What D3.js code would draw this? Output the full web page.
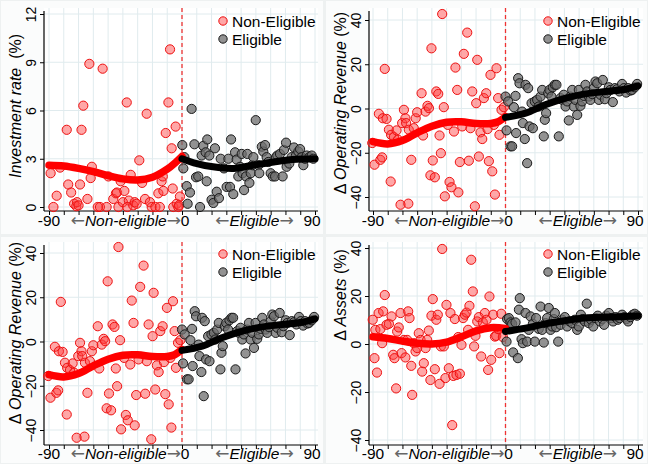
<!DOCTYPE html>
<html>
<head>
<meta charset="utf-8">
<script src="https://cdn.jsdelivr.net/npm/d3@7"></script>
<style>
  body { margin: 0; background: #eef1f1; }
  svg { display: block; font-family: "Liberation Sans", Arial, sans-serif; }
</style>
</head>
<body>
<div id="canvas"></div>
<script>
"use strict"

/* Data: [days from cutoff, value] */
let invNon = [[-88.9,2.1],[-87,0],[-84.8,0.7],[-82.5,2.45],[-78,4.8],[-77,1.4],[-75,0.9],[-73,0.2],[-71.5,0.05],[-71,0.3],[-70,0.1],[-69,1.4],[-68,4.8],[-66.8,6.3],[-64,0.5],[-62.7,8.9],[-61.8,1.8],[-61,2.5],[-57,0],[-55.5,0],[-53.7,8.6],[-51,0],[-49.8,1.9],[-46.5,0.5],[-44.7,0.85],[-44,0.9],[-43,0],[-41.5,1.6],[-40,0.3],[-39,1.0],[-37.4,6.5],[-36,0.4],[-37,0],[-34.7,2.0],[-33,0.1],[-32,0.3],[-30.7,0.2],[-28.9,2.9],[-27,1.5],[-25,0.5],[-23.9,5.8],[-21.7,0.3],[-20.5,0],[-18,0],[-16,0.85],[-15,0],[-13.8,1.6],[-13,1.9],[-12.6,1.0],[-11,4.6],[-9.2,6.5],[-8.1,9.8],[-7,3.65],[-6.3,1.15],[-5.9,0],[-4.3,5.0],[-3.6,0.2],[-2.5,0],[-1.4,0.65],[-2,0.1]];
let invElig = [[0.2,3.85],[0.9,2.4],[1.6,3.1],[3.2,1.3],[3.8,0.2],[5.4,0.9],[6.5,6.1],[8.4,3.9],[9.5,1.85],[11,1.9],[12.2,0],[13.3,3.2],[14.4,3.8],[16,3.4],[16.7,1.6],[17.1,4.2],[18.5,3.2],[20,0.45],[21.2,0.25],[22.3,3.65],[23.5,0.95],[25,0.55],[26.2,3.0],[28.4,2.4],[30.2,1.25],[31.4,3.0],[32.5,1.25],[33.2,4.2],[34.7,0.8],[35.9,3.4],[37,2.95],[38.1,1.9],[39.3,2.5],[40.4,3.3],[41,2.1],[42,1.05],[43.3,1.9],[44.2,3.3],[45.6,1.5],[46.5,2.1],[47.6,2.6],[48.3,3.1],[49.9,5.4],[51.7,2.6],[52.3,2.1],[54,3.75],[55,3.45],[56.2,3.85],[57.3,3.1],[58.4,2.8],[60,2.1],[61.4,1.9],[63,1.9],[63.6,3.1],[64.5,3.2],[66.3,3.3],[68.1,1.9],[69,3.55],[70.4,4.0],[70.8,2.5],[72.6,2.7],[74.2,3.1],[75.8,3.7],[77.1,3.2],[78.7,3.45],[79.9,3.6],[81,3.1],[82.1,2.6],[83.2,3.0],[84.4,3.2],[86.2,3.1],[87.8,3.2],[88.9,3.0]];
let invNonFit = [[-90,2.6],[-80,2.55],[-70,2.4],[-60,2.2],[-50,1.95],[-40,1.75],[-30,1.68],[-20,1.85],[-10,2.35],[-4,2.8],[0,3.15]];
let invEligFit = [[0,3.0],[8,2.75],[21,2.5],[35,2.4],[48,2.6],[62,2.8],[75,2.95],[90,3.0]];

let revNon = [[-90.5,-15.6],[-89,-25.4],[-86,-2.4],[-85,-23.2],[-83.8,-22.1],[-83.3,-4.4],[-82,17.9],[-80.8,-4.7],[-79.2,-9.6],[-78,-33],[-77.7,-11.9],[-75.8,-12.9],[-74,-9.9],[-73,-14.1],[-71.3,-43.5],[-70.2,-6.6],[-69,-0.6],[-68,-4.4],[-67.5,-6.6],[-66,-43],[-65.7,-9.6],[-64,-23.2],[-62.3,-8.9],[-61,-4.4],[-60,-1.7],[-57,6.9],[-56,-12.2],[-54.3,-1.4],[-53,1.2],[-52,0.15],[-51,-30.2],[-50.3,27.2],[-49.4,-23.5],[-48,-31.1],[-47,7.7],[-45.7,6.6],[-44.8,-12.2],[-43.9,-20.2],[-43,42.7],[-41.9,0.6],[-41.2,-39.7],[-39.2,-7.4],[-38,-33.2],[-36.7,-35.6],[-35,-10.4],[-34,18.5],[-32.8,8.4],[-32,-37.9],[-31,-24.2],[-29.4,-8.1],[-28.3,24.7],[-26,34.3],[-24.9,-23.6],[-23.8,-8.9],[-22.6,7.7],[-20.8,-44.2],[-19.9,2.4],[-19.2,22],[-18.1,-21.7],[-17,-10.8],[-15.8,-13.8],[-14.7,4.7],[-13.1,6.9],[-12.2,-9.3],[-11.3,-23.8],[-10.2,15.2],[-9,-28.4],[-7.9,-7.4],[-7.2,-38.9],[-6.1,18.2],[-5,4.7],[-4.1,-11.9],[-2.7,-0.6],[-1.1,0.6]];
let revElig = [[0,5.4],[0.7,-9.9],[1.8,3.2],[3.4,-17.1],[4.5,-17.1],[5.7,0.6],[6.8,5.7],[7.2,-11.1],[8.6,13.7],[9.5,11.4],[11.3,-1.4],[11.8,-6.6],[13.1,-13.8],[13.6,10.7],[15.4,9.2],[14.7,-24.7],[16.3,-8.1],[17.7,2.4],[18.6,-8.9],[19.9,3.2],[21.5,3.9],[22.6,0.9],[23.8,5.4],[24.9,8.4],[26,-12.6],[26.7,-5.1],[27.6,-2.1],[29,6.9],[29.9,8.4],[31.2,5.4],[32.1,9.6],[33.5,10.7],[34.6,10.7],[36.2,-12.6],[37.4,4.7],[38.5,3.9],[39.6,6.2],[40.8,0.9],[41.9,3.2],[43,-5.4],[44.1,5.4],[45.3,8.4],[46.4,0.9],[47.5,3.9],[48.7,-2.9],[49.8,8.4],[50.9,1.2],[52,3.2],[53.2,5.7],[54.3,10.7],[55.5,7.7],[56.6,5.4],[57.7,3.9],[58.9,6.5],[60,9.2],[61.1,12.2],[62.3,11.4],[63.4,3.9],[64.5,6.2],[66.1,12.9],[67.5,4.2],[68.6,6.9],[70.2,9.6],[71.3,8.4],[72.9,2.9],[74.3,9.2],[75.8,8.7],[77.4,7.7],[79.2,11.1],[80.4,9.2],[82,7.2],[83.3,9.2],[84.9,8.1],[86,8.4],[87.8,9.6],[89.4,11.1]];
let revNonFit = [[-90,-15],[-80,-16],[-70,-14.5],[-60,-11],[-50,-8],[-40,-6.2],[-30,-6],[-20,-6.8],[-10,-6.8],[-5,-6],[0,-3.6]];
let revEligFit = [[0,-4],[13.6,-2.1],[27,1.7],[41,4.7],[54,6.6],[68,7.7],[81.5,8.7],[90,10.2]];

let astNon = [[-90.2,10.1],[-89,-5.9],[-88.4,5.9],[-87.3,-11.9],[-86.2,12.9],[-85,6.2],[-83.8,0.35],[-83.1,13.6],[-82,20.4],[-80.8,8],[-79.2,8.4],[-77.4,11.5],[-76.3,-4.5],[-75.4,-5.9],[-74.3,-18.5],[-73.6,5.2],[-72.5,6.9],[-71.3,12.9],[-70.6,-3.8],[-69,1.7],[-68,-5.6],[-66.8,1.7],[-66.1,13.6],[-65.2,10.8],[-64,-9.1],[-63.4,-21.2],[-62.3,0.35],[-61.1,-3.1],[-60,-1.7],[-58.9,4.5],[-57.7,1.7],[-56.6,-11.5],[-55.5,-8],[-54.3,-1.7],[-53.2,1.7],[-52.1,5.6],[-51,-15],[-50.3,11.8],[-49.4,18.7],[-48,-10.5],[-47,10.1],[-46,12.2],[-44.8,-16.6],[-43.9,-1],[-43,39.6],[-41.9,-1],[-40.8,-14.2],[-40.1,16.3],[-38.5,-10.1],[-37.4,12.9],[-36.2,-33.8],[-35.5,-13.3],[-34.4,10.4],[-33.3,-12.9],[-32.1,2.9],[-31,-12.4],[-29.9,-0.35],[-28.8,10.8],[-27.6,12.2],[-26.5,13.1],[-25.4,5.9],[-24.5,15.9],[-23.3,35.1],[-22.2,21.9],[-21.3,-1],[-20.4,3.4],[-19.2,9.4],[-18.1,11.2],[-16.5,-5.2],[-15.4,9],[-14,12.9],[-12.9,10.1],[-11.8,-10.8],[-10.9,19.8],[-9.7,-6.6],[-8.4,12.2],[-7.2,3.1],[-6.3,3.4],[-5,6.2],[-4.1,-3.8],[-2.9,12.6],[-1.8,2.9]];
let astElig = [[0.7,1.0],[1.1,10.4],[2.3,10.8],[3.4,9],[4.5,8.4],[5.2,-3.5],[6.8,9],[8.4,-5.9],[9.1,14.3],[9.7,19.1],[10.9,2],[11.8,0.35],[13.6,12.9],[14.7,1],[15.8,5.9],[17,11.5],[18.6,8.4],[19.9,1],[20.8,10.8],[22.6,6.3],[23.8,15.6],[24.9,5.9],[26,0.6],[27.2,8.7],[28.3,10.8],[29.4,15],[30.6,5.9],[31.7,7.3],[32.8,10.4],[33.5,12.9],[34.4,7],[35.8,1],[37.4,8],[38.5,10.1],[40.3,11.2],[41.9,7.3],[43.5,9.4],[45.3,8.7],[47.1,10.1],[48.7,5.9],[49.8,7.3],[51.2,12.2],[52.5,10.4],[53.9,9.4],[55.2,16.8],[56.6,8.7],[58.2,10.1],[59.6,7.3],[61.1,10.8],[62.7,11.8],[64.1,9.4],[65.7,10.4],[67,8],[68.4,11.8],[70.2,12.9],[71.8,10.8],[73.1,9.4],[74.7,11.2],[76.3,10.1],[77.6,10.8],[79.2,12.2],[80.8,11.2],[82.2,10.4],[83.3,9.4],[84.9,11.2],[86.5,12.2],[87.8,12.6],[89.4,11.8]];
let astNonFit = [[-90,3],[-80,2.3],[-70,1.2],[-60,0.3],[-50,0],[-40,0.8],[-30,3],[-20,5.5],[-10,6.8],[0,6.5]];
let astEligFit = [[0,5.2],[13.6,6.6],[27,8.4],[41,9.8],[54,10.8],[68,11.2],[81.5,11.5],[90,11.8]];

let xTicks = d3.range(-90, 91, 10);
let xLabelTicks = [-90, 0, 90];
let invTicks = [0, 3, 6, 9, 12];
let pctTicks = [-40, -20, 0, 20, 40];
let legendLabels = ["Non-Eligible", "Eligible"];

/* Layout of the four panels */
let panels = [
    {bx: 1, by: 1, bw: 322, bh: 233, axisX: 44, xr: [49, 315], right: 318, top: 8, axisY: 211,
     yDomain: [0, 12], yr: [207, 14], ticks: invTicks, titleY: 106,
     title: [["Investment rate", true], ["  (%)", false]],
     non: invNon, elig: invElig, nonFit: invNonFit, eligFit: invEligFit, legY: 21, labY: 226},
    {bx: 326, by: 1, bw: 321, bh: 233, axisX: 369, xr: [373, 638], right: 643, top: 8, axisY: 211,
     yDomain: [-40, 40], yr: [197, 20], ticks: pctTicks, titleY: 103,
     title: [["\u0394 ", false], ["Operating Revenue", true], [" (%)", false]],
     non: revNon, elig: revElig, nonFit: revNonFit, eligFit: revEligFit, legY: 21, labY: 226},
    {bx: 1, by: 237, bw: 322, bh: 226, axisX: 44, xr: [49, 315], right: 318, top: 242, axisY: 445,
     yDomain: [-40, 40], yr: [430, 253], ticks: pctTicks, titleY: 333,
     title: [["\u0394 ", false], ["Operating Revenue", true], [" (%)", false]],
     non: revNon, elig: revElig, nonFit: revNonFit, eligFit: revEligFit, legY: 254, labY: 459},
    {bx: 326, by: 237, bw: 321, bh: 226, axisX: 369, xr: [373, 638], right: 643, top: 242, axisY: 445,
     yDomain: [-40, 40], yr: [440, 248], ticks: pctTicks, titleY: 295,
     title: [["\u0394 ", false], ["Assets", true], [" (%)", false]],
     non: astNon, elig: astElig, nonFit: astNonFit, eligFit: astEligFit, legY: 254, labY: 459}
];

let svg = d3.select("#canvas")
    .append("svg")
    .attr("width", 648)
    .attr("height", 464);

let gridColor = "#e0ebee";
let redFill = "rgba(255,60,60,0.45)";
let grayFill = "rgba(110,110,110,0.75)";

panels.forEach(function(p) {
    let x = d3.scaleLinear().domain([-90, 90]).range(p.xr);
    let y = d3.scaleLinear().domain(p.yDomain).range(p.yr);
    let g = svg.append("g");

    // panel background and plot region
    g.append("rect")
        .attr("x", p.bx).attr("y", p.by)
        .attr("width", p.bw).attr("height", p.bh)
        .attr("fill", "#fbfcfc");
    g.append("rect")
        .attr("x", p.axisX).attr("y", p.top)
        .attr("width", p.right - p.axisX).attr("height", p.axisY - p.top)
        .attr("fill", "#ffffff");

    // grid
    g.selectAll(".vgrid")
        .data(xTicks)
        .join("line")
        .attr("x1", d => x(d)).attr("x2", d => x(d))
        .attr("y1", p.top).attr("y2", p.axisY)
        .attr("stroke", gridColor).attr("stroke-width", 1);
    g.selectAll(".hgrid")
        .data(p.ticks)
        .join("line")
        .attr("x1", p.axisX).attr("x2", p.right)
        .attr("y1", d => y(d)).attr("y2", d => y(d))
        .attr("stroke", gridColor).attr("stroke-width", 1);

    // y axis
    let yAxis = g.append("g")
        .attr("transform", "translate(" + p.axisX + ",0)")
        .call(d3.axisLeft(y).tickValues(p.ticks).tickSize(4).tickSizeOuter(0));
    yAxis.select(".domain").remove();
    yAxis.selectAll("line").attr("stroke", "#000");
    yAxis.selectAll("text")
        .attr("x", null).attr("dy", null)
        .attr("transform", "translate(-8,0) rotate(-90)")
        .attr("text-anchor", "middle")
        .attr("font-size", "14px")
        .attr("font-family", "Liberation Sans, Arial, sans-serif")
        .attr("fill", "#000");
    g.append("line")
        .attr("x1", p.axisX).attr("x2", p.axisX)
        .attr("y1", p.top + 3).attr("y2", p.axisY)
        .attr("stroke", "#000").attr("stroke-width", 1.2);

    // x axis
    let xAxis = g.append("g")
        .attr("transform", "translate(0," + p.axisY + ")")
        .call(d3.axisBottom(x).tickValues(xTicks).tickSize(4).tickSizeOuter(0).tickFormat(""));
    xAxis.select(".domain").remove();
    xAxis.selectAll("line").attr("stroke", "#000");
    g.append("line")
        .attr("x1", p.axisX).attr("x2", p.right)
        .attr("y1", p.axisY).attr("y2", p.axisY)
        .attr("stroke", "#000").attr("stroke-width", 1.2);

    g.selectAll(".xlab")
        .data(xLabelTicks)
        .join("text")
        .attr("x", d => x(d) + (d === 0 ? 3 : (d === 90 ? -3 : 0)))
        .attr("y", p.labY)
        .attr("text-anchor", "middle")
        .attr("font-size", "15.5px")
        .text(d => d);

    // side labels with arrows
    let sideLabels = [
        {text: "Non-eligible", x: x(0) - 1, anchor: "end"},
        {text: "Eligible", x: x(49), anchor: "middle"}
    ];
    sideLabels.forEach(function(s) {
        let t = g.append("text")
            .attr("x", s.x)
            .attr("y", p.labY)
            .attr("text-anchor", s.anchor)
            .attr("font-size", "15.5px");
        t.append("tspan").attr("fill", "#666").attr("font-family", "DejaVu Sans")
            .attr("font-size", "17px").text("\u2190");
        t.append("tspan").attr("font-style", "italic").text(s.text);
        t.append("tspan").attr("fill", "#666").attr("font-family", "DejaVu Sans")
            .attr("font-size", "17px").text("\u2192");
    });

    // y title
    let title = g.append("text")
        .attr("transform", "translate(" + (p.bx + 20) + "," + p.titleY + ") rotate(-90)")
        .attr("text-anchor", "middle")
        .attr("font-size", "16px")
        .attr("style", "white-space: pre");
    p.title.forEach(function(part) {
        title.append("tspan")
            .attr("font-style", part[1] ? "italic" : "normal")
            .text(part[0]);
    });

    // cutoff line
    g.append("line")
        .attr("x1", x(0)).attr("x2", x(0))
        .attr("y1", p.top).attr("y2", p.axisY)
        .attr("stroke", "#ee3333")
        .attr("stroke-width", 1.3)
        .attr("stroke-dasharray", "4,3");

    // scatter points
    g.selectAll(".non")
        .data(p.non)
        .join("circle")
        .attr("cx", d => x(d[0]))
        .attr("cy", d => y(d[1]))
        .attr("r", 4.6)
        .attr("fill", redFill)
        .attr("stroke", "#ee1111")
        .attr("stroke-width", 1);
    g.selectAll(".elig")
        .data(p.elig)
        .join("circle")
        .attr("cx", d => x(d[0]))
        .attr("cy", d => y(d[1]))
        .attr("r", 4.6)
        .attr("fill", grayFill)
        .attr("stroke", "#1a1a1a")
        .attr("stroke-width", 1);

    // fitted lines
    let line = d3.line()
        .x(d => x(d[0]))
        .y(d => y(d[1]))
        .curve(d3.curveCatmullRom);
    g.append("path")
        .attr("d", line(p.nonFit))
        .attr("fill", "none")
        .attr("stroke", "#ff0000")
        .attr("stroke-width", 7.5)
        .attr("stroke-linecap", "round");
    g.append("path")
        .attr("d", line(p.eligFit))
        .attr("fill", "none")
        .attr("stroke", "#000")
        .attr("stroke-width", 7)
        .attr("stroke-linecap", "round");

    // legend
    let legX = p.bx + 222;
    legendLabels.forEach(function(lab, i) {
        let ly = p.legY + i * 18;
        g.append("circle")
            .attr("cx", legX).attr("cy", ly)
            .attr("r", 4.2)
            .attr("fill", i === 0 ? redFill : grayFill)
            .attr("stroke", i === 0 ? "#ee1111" : "#1a1a1a");
        g.append("text")
            .attr("x", legX + 9)
            .attr("y", ly + 5.5)
            .attr("font-size", "15.5px")
            .text(lab);
    });
});
</script>
</body>
</html>
